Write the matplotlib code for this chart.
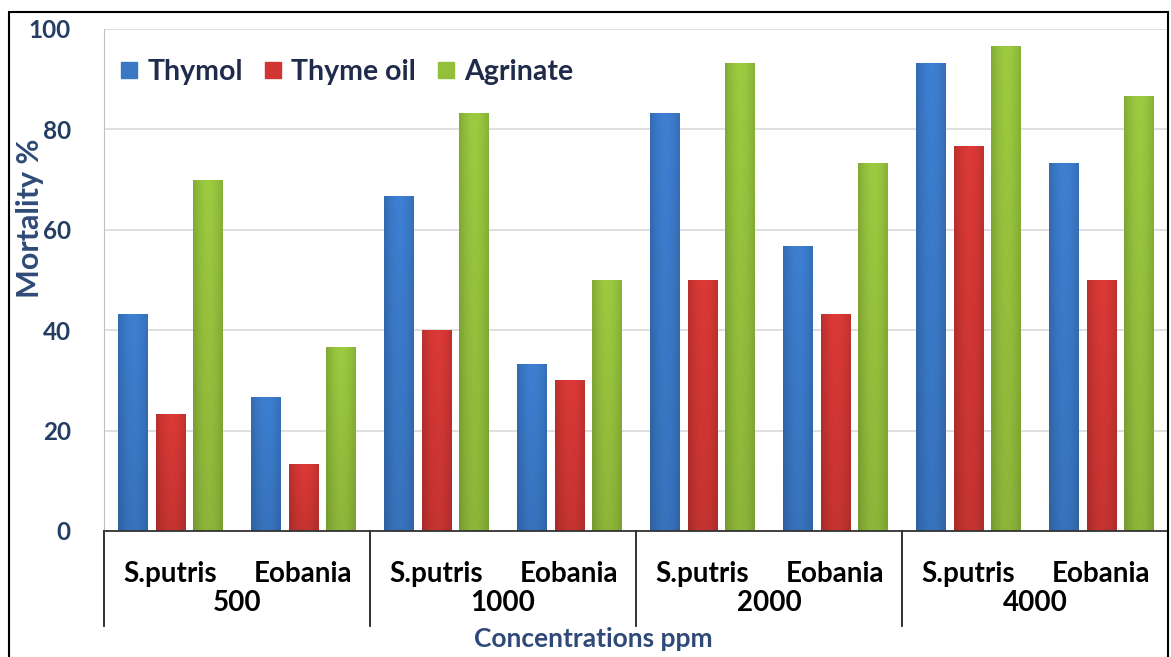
import numpy as np
import matplotlib.pyplot as plt
from matplotlib.lines import Line2D
from matplotlib.patches import Rectangle

plt.rcParams['font.family'] = ['Lato', 'DejaVu Sans']

species = ['S.putris', 'Eobania'] * 4
concentrations = ['500', '1000', '2000', '4000']
thymol = [43.3, 26.7, 66.7, 33.3, 83.3, 56.7, 93.3, 73.3]
thyme_oil = [23.3, 13.3, 40.0, 30.0, 50.0, 43.3, 76.7, 50.0]
agrinate = [70.0, 36.7, 83.3, 50.0, 93.3, 73.3, 96.7, 86.7]

series = [('Thymol', thymol, '#3a78c6'),
          ('Thyme oil', thyme_oil, '#cf3633'),
          ('Agrinate', agrinate, '#93bf3c')]

navy = '#243d63'
W, H = 1171, 657
fig = plt.figure(figsize=(W / 100, H / 100), dpi=100)
ax = fig.add_axes([104 / W, 1 - 531 / H, (1168 - 104) / W, (531 - 29) / H])

x = np.arange(len(species))
w = 0.225
offs = [-0.28, 0.0, 0.28]


def shade(color, n=40):
    # horizontal cylinder-like shading, darker towards the bottom
    rgb = np.array(plt.matplotlib.colors.to_rgb(color))
    u = np.linspace(0, 1, n)
    prof = 0.86 + 0.2 * np.sin(np.pi * (u * 0.85 + 0.05))
    v = np.linspace(1.0, 0.9, n)[:, None]
    img = np.clip(rgb[None, None, :] * prof[None, :, None] * v[:, :, None], 0, 1)
    return img


for (name, vals, col), o in zip(series, offs):
    bars = ax.bar(x + o, vals, width=w, color=col, zorder=2)
    img = shade(col)
    for b in bars:
        x0 = b.get_x()
        im = ax.imshow(img, extent=[x0, x0 + b.get_width(), 0, b.get_height()],
                       aspect='auto', origin='upper', zorder=2.5,
                       interpolation='bilinear')
        im.set_clip_path(b)

ax.set_xlim(-0.5, 7.5)
ax.set_ylim(0, 100)
ax.set_yticks(np.arange(0, 101, 20))
ax.set_xticks([])
ax.grid(axis='y', color='#d9d9d9', lw=1.2, zorder=0)
ax.set_axisbelow(True)
ax.tick_params(axis='y', length=0, pad=24, labelsize=17.5, labelcolor=navy)
for t in ax.get_yticklabels():
    t.set_fontweight('bold')
for s in ['top', 'right']:
    ax.spines[s].set_visible(False)
ax.spines['left'].set_color('#bfbfbf')
ax.spines['bottom'].set_color('#333333')
ax.spines['bottom'].set_linewidth(1.3)

# two-level category axis
for xi, lab in zip(x, species):
    ax.text(xi, -0.086, lab, transform=ax.get_xaxis_transform(), ha='center',
            va='center', fontsize=20, fontweight='bold', color='black')
for gi, lab in enumerate(concentrations):
    ax.text(2 * gi + 0.5, -0.143, lab, transform=ax.get_xaxis_transform(),
            ha='center', va='center', fontsize=20, fontweight='bold', color='black')
for sx in [-0.5, 1.5, 3.5, 5.5, 7.5]:
    ax.plot([sx, sx], [0, -0.19], transform=ax.get_xaxis_transform(),
            color='#222222', lw=1.3, clip_on=False)

fig.text(593 / W, 1 - 639 / H, 'Concentrations ppm', ha='center', va='center',
         fontsize=19, fontweight='bold', color='#2f4a78')
fig.text(30 / W, 1 - 218 / H, 'Mortality %', rotation=90, ha='center',
         va='center', fontsize=22, fontweight='bold', color='#2f4a78')

handles = [Line2D([], [], marker='s', ls='', markersize=11, color=c)
           for _, _, c in series]
ax.legend(handles, [s[0] for s in series], ncol=3, frameon=False,
          loc='center left', bbox_to_anchor=(-0.014, 0.914),
          handletextpad=0.15, columnspacing=0.55, handlelength=1.0,
          prop={'weight': 'bold', 'size': 20.5}, labelcolor='#1f2b4a')

fig.add_artist(Rectangle((9 / W, -0.02), (1168 - 9) / W, 1.02 - 12 / H,
                         transform=fig.transFigure, fill=False,
                         edgecolor='black', lw=1.5))

fig.savefig('out.png', dpi=100)
